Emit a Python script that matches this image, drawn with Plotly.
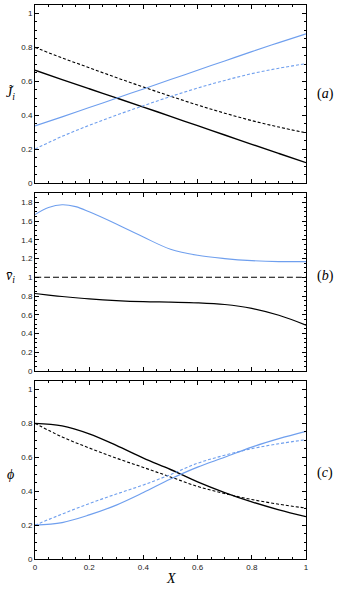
import plotly.graph_objects as go
from plotly.subplots import make_subplots

# ---- data ----
X = [0, 0.1, 0.2, 0.3, 0.4, 0.5, 0.6, 0.7, 0.8, 0.9, 1.0]

# panel (a): J_i
J_black_solid = [0.665, 0.61, 0.556, 0.502, 0.448, 0.393, 0.338, 0.283, 0.228, 0.174, 0.12]
J_black_dash = [0.80, 0.738, 0.68, 0.622, 0.566, 0.512, 0.46, 0.412, 0.368, 0.33, 0.296]
J_blue_solid = [0.337, 0.39, 0.445, 0.50, 0.555, 0.61, 0.665, 0.72, 0.775, 0.828, 0.88]
J_blue_dash = [0.20, 0.275, 0.34, 0.40, 0.456, 0.51, 0.56, 0.605, 0.645, 0.677, 0.704]

# panel (b): v_i
Xb = [0, 0.05, 0.1, 0.15, 0.2, 0.3, 0.4, 0.5, 0.6, 0.7, 0.8, 0.9, 1.0]
v_blue = [1.67, 1.745, 1.775, 1.755, 1.70, 1.57, 1.43, 1.30, 1.235, 1.20, 1.178, 1.168, 1.168]
v_black_dash = [1.0] * len(Xb)
v_black = [0.827, 0.81, 0.795, 0.782, 0.77, 0.752, 0.74, 0.735, 0.728, 0.71, 0.668, 0.595, 0.49]

# panel (c): phi
phi_black_solid = [0.80, 0.785, 0.738, 0.67, 0.595, 0.528, 0.455, 0.392, 0.337, 0.29, 0.25]
phi_black_dash = [0.80, 0.72, 0.655, 0.595, 0.54, 0.484, 0.428, 0.386, 0.351, 0.323, 0.30]
phi_blue_solid = [0.20, 0.215, 0.26, 0.318, 0.392, 0.472, 0.542, 0.60, 0.66, 0.71, 0.753]
phi_blue_dash = [0.20, 0.265, 0.327, 0.383, 0.437, 0.498, 0.565, 0.612, 0.651, 0.68, 0.704]

BLUE = "#6f9fee"
SERIF = "Liberation Serif"

fig = make_subplots(rows=3, cols=1, shared_xaxes=True, vertical_spacing=0.018)

def add(row, x, y, color, dash, width=1.1):
    fig.add_trace(go.Scatter(x=x, y=y, mode="lines", line=dict(color=color, dash=dash, width=width, shape="spline"),
                             showlegend=False, hoverinfo="skip"), row=row, col=1)

add(1, X, J_black_solid, "black", "solid", 1.4)
add(1, X, J_black_dash, "black", "3px,2px")
add(1, X, J_blue_solid, BLUE, "solid")
add(1, X, J_blue_dash, BLUE, "3px,2px")

add(2, Xb, v_blue, BLUE, "solid")
add(2, Xb, v_black_dash, "black", "6px,3px")
add(2, Xb, v_black, "black", "solid", 1.2)

add(3, X, phi_black_solid, "black", "solid", 1.4)
add(3, X, phi_black_dash, "black", "3px,2px")
add(3, X, phi_blue_solid, BLUE, "solid", 1.2)
add(3, X, phi_blue_dash, BLUE, "3px,2px")

axis_common = dict(
    showline=True, linecolor="black", linewidth=1, mirror="ticks",
    ticks="inside", ticklen=4, tickcolor="black", showgrid=False, zeroline=False,
    tickfont=dict(family="Liberation Sans", size=8, color="#222"),
    minor=dict(ticks="inside", ticklen=2, dtick=0.05, tickcolor="black", showgrid=False),
)

fig.update_xaxes(range=[0, 1], dtick=0.2, **axis_common)
fig.update_yaxes(dtick=0.2, **axis_common)
fig.update_xaxes(showticklabels=False, row=1, col=1)
fig.update_xaxes(showticklabels=False, row=2, col=1)
fig.update_xaxes(showticklabels=True, row=3, col=1)

fig.update_layout(
    yaxis=dict(range=[0, 1.05], domain=[0.6787, 1.0]),
    yaxis2=dict(range=[0, 1.9], domain=[0.3394, 0.6606]),
    yaxis3=dict(range=[0, 1.05], domain=[0.0, 0.3213]),
)

# axis titles and panel labels (pixel-placed relative to the plot area)
labels = [
    (-25, 0.84, "<i>J̃<sub>i</sub></i>"),
    (-25, 0.51, "<i>v̄<sub>i</sub></i>"),
    (-25, 0.152, "<i>ϕ</i>"),
    (19, 0.84, "(<i>a</i>)"),
    (19, 0.51, "(<i>b</i>)"),
    (19, 0.155, "(<i>c</i>)"),
]
for dx, y, t in labels:
    fig.add_annotation(x=0 if dx < 0 else 1, y=y, xref="paper", yref="paper", text=t, showarrow=False,
                       xanchor="center", yanchor="middle",
                       xshift=dx, font=dict(family=SERIF, size=14, color="black"))
fig.add_annotation(x=0.5, y=0, xref="paper", yref="paper", text="<i>X</i>", showarrow=False,
                   xanchor="center", yanchor="middle",
                   yshift=-19, font=dict(family=SERIF, size=14, color="black"))

fig.update_layout(
    width=340, height=589,
    margin=dict(l=35, r=34, t=5, b=30),
    plot_bgcolor="white", paper_bgcolor="white",
)

# drop the default page margin so the figure sits at the window's corner
fig.write_html("out.html", config={"displayModeBar": False},
               post_script="document.body.style.margin='0';")
